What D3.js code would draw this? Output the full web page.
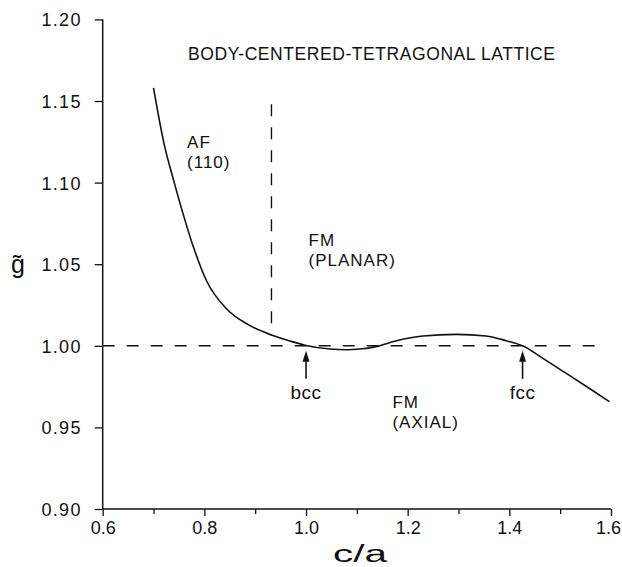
<!DOCTYPE html>
<html>
<head>
<meta charset="utf-8">
<script src="https://cdn.jsdelivr.net/npm/d3@7"></script>
<style>
body { margin: 0; background: #fff; }
svg text { font-family: "Liberation Sans", Arial, sans-serif; fill: #111; }
</style>
</head>
<body>
<div class="chart"></div>
<script>
// g~ versus c/a, bct lattice
WIDTH = 622
HEIGHT = 567

var caVals = [0.700, 0.722, 0.739, 0.758, 0.778, 0.804, 0.844, 0.889, 0.932, 0.968, 1.000,
              1.047, 1.080, 1.106, 1.138, 1.178, 1.230, 1.296, 1.354, 1.394, 1.426, 1.466, 1.512, 1.557, 1.597];
var gVals  = [1.158, 1.122, 1.102, 1.081, 1.061, 1.040, 1.0225, 1.0125, 1.0066, 1.0030, 1.0002,
              0.9980, 0.9976, 0.9980, 0.9995, 1.0031, 1.0060, 1.0070, 1.0060, 1.0031, 1.0000, 0.9923, 0.9831, 0.9740, 0.9657];

var xTicks = [0.6, 0.8, 1.0, 1.2, 1.4, 1.6];
var xMinor = [0.7, 0.9, 1.1, 1.3, 1.5];
var yTicks = [0.90, 0.95, 1.00, 1.05, 1.10, 1.15, 1.20];

var boundaryCA = 0.932;     // vertical dashed line
var boundaryG = [1.0066, 1.148];
var refG = 1.00;            // horizontal dashed line
var refCA = [0.6, 1.575];

var arrowCA = [1.0, 1.426];
var arrowNames = ["bcc", "fcc"];

var regionLabels = [
  {ca: 0.766, g: 1.121, lines: ["AF", "(110)"]},
  {ca: 1.005, g: 1.061, lines: ["FM", "(PLANAR)"]},
  {ca: 1.170, g: 0.962, lines: ["FM", "(AXIAL)"]}
];

var x = d3.scaleLinear().domain([0.6, 1.6]).range([102.7, 611]);
var y = d3.scaleLinear().domain([0.9, 1.2]).range([509, 19.4]);

var svg = d3.select(".chart").append("svg")
    .attr("width", WIDTH)
    .attr("height", HEIGHT);

// axes
var xAxis = svg.append("g")
    .attr("transform", "translate(0,509)")
    .call(d3.axisBottom(x).tickValues(xTicks).tickSize(7).tickPadding(5).tickFormat(d3.format(".1f")));
svg.append("g")
    .attr("transform", "translate(0,509)")
    .call(d3.axisBottom(x).tickValues(xMinor).tickSize(5).tickFormat(""))
    .select(".domain").remove();
var yAxis = svg.append("g")
    .attr("transform", "translate(102.7,0)")
    .call(d3.axisLeft(y).tickValues(yTicks).tickSize(8).tickPadding(13).tickFormat(d3.format(".2f")));

// plain domain lines without outer ticks
xAxis.select(".domain").attr("d", "M" + x(0.6) + ",0H" + x(1.6));
yAxis.select(".domain").attr("d", "M0," + y(0.9) + "V" + y(1.2));
svg.selectAll(".domain").attr("stroke", "#111").attr("stroke-width", 1.5);
svg.selectAll(".tick line").attr("stroke", "#111").attr("stroke-width", 1.3);
svg.selectAll(".tick text").style("font-size", "18px").attr("fill", "#111");
yAxis.selectAll(".tick text").style("letter-spacing", "1.3px").attr("dy", "0.36em");
// last label sits on the page edge
xAxis.selectAll(".tick text").filter(function(d) { return d === 1.6; }).attr("dx", -3);

// dashed reference lines
svg.append("line")
    .attr("x1", x(refCA[0])).attr("x2", x(refCA[1]))
    .attr("y1", y(refG)).attr("y2", y(refG))
    .attr("stroke", "#111").attr("stroke-width", 1.4)
    .attr("stroke-dasharray", "12,12");
svg.append("line")
    .attr("x1", x(boundaryCA)).attr("x2", x(boundaryCA))
    .attr("y1", y(boundaryG[1])).attr("y2", y(boundaryG[0]))
    .attr("stroke", "#111").attr("stroke-width", 1.4)
    .attr("stroke-dasharray", "12,11");

// the curve
var line = d3.line()
    .x(function(d, i) { return x(caVals[i]); })
    .y(function(d) { return y(d); })
    .curve(d3.curveMonotoneX);
svg.append("path")
    .attr("d", line(gVals))
    .attr("fill", "none")
    .attr("stroke", "#111")
    .attr("stroke-width", 1.6);

// arrows for bcc and fcc
arrowCA.forEach(function(c, i) {
  var ax = x(c), tip = y(1.0) + 5, tail = tip + 28;
  svg.append("line")
      .attr("x1", ax).attr("x2", ax)
      .attr("y1", tip + 8).attr("y2", tail)
      .attr("stroke", "#111").attr("stroke-width", 1.6);
  svg.append("path")
      .attr("d", "M" + ax + "," + tip + "L" + (ax - 3.5) + "," + (tip + 11) + "L" + (ax + 3.5) + "," + (tip + 11) + "Z")
      .attr("fill", "#111");
  svg.append("text")
      .attr("x", ax).attr("y", tail + 20)
      .attr("text-anchor", "middle")
      .style("font-size", "19px")
      .style("letter-spacing", "0.5px")
      .text(arrowNames[i]);
});

// region labels
regionLabels.forEach(function(r) {
  r.lines.forEach(function(t, j) {
    svg.append("text")
        .attr("x", x(r.ca)).attr("y", y(r.g) + j * 20)
        .style("font-size", "17px")
        .style("letter-spacing", "1px")
        .text(t);
  });
});

// title
svg.append("text")
    .attr("x", 188).attr("y", 60)
    .attr("textLength", 367)
    .attr("lengthAdjust", "spacing")
    .style("font-size", "17.5px")
    .text("BODY-CENTERED-TETRAGONAL LATTICE");

// axis titles
svg.append("text")
    .attr("x", 333).attr("y", 562)
    .attr("textLength", 54)
    .attr("lengthAdjust", "spacingAndGlyphs")
    .style("font-size", "23px")
    .text("c/a");
svg.append("text")
    .attr("x", 11).attr("y", 273)
    .style("font-size", "25px")
    .text("g\u0303");
</script>
</body>
</html>
